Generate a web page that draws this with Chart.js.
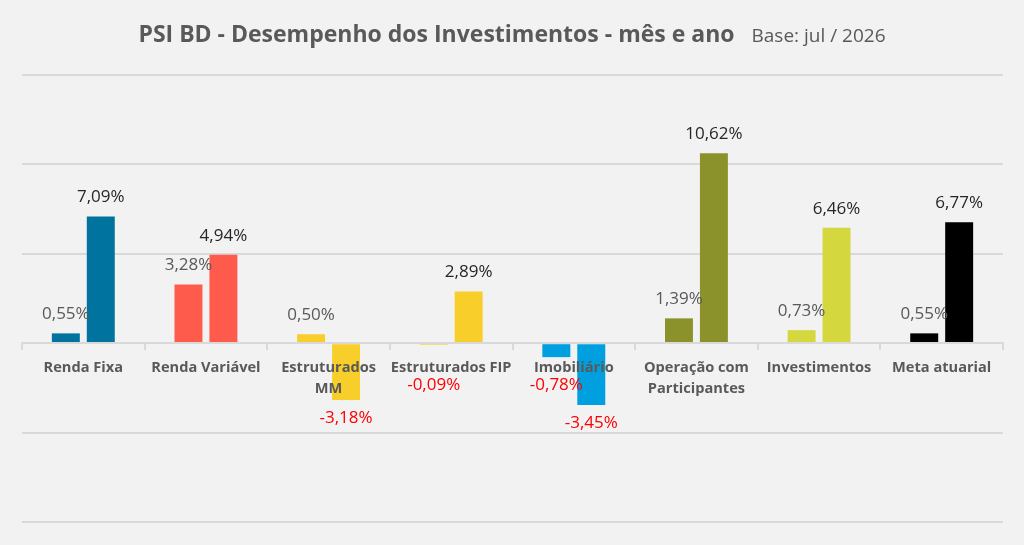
<!DOCTYPE html>
<html>
<head>
<meta charset="utf-8">
<script src="https://cdn.jsdelivr.net/npm/chart.js@4/dist/chart.umd.min.js"></script>
<style>
  html, body { margin: 0; padding: 0; background: #F2F2F2; }
  #wrap { width: 1024px; height: 545px; position: relative; }
</style>
</head>
<body>
<div id="wrap"><canvas id="c" width="1024" height="545"></canvas></div>
<script>
const titleText = 'PSI BD - Desempenho dos Investimentos - mês e ano';
const subtitleText = 'Base: jul / 2026';
const categories = [
  ['Renda Fixa'],
  ['Renda Variável'],
  ['Estruturados', 'MM'],
  ['Estruturados FIP'],
  ['Imobiliário'],
  ['Operação com', 'Participantes'],
  ['Investimentos'],
  ['Meta atuarial']
];
const seriesNames = ['Mês', 'Ano'];
const monthValues = [0.55, 3.28, 0.50, -0.09, -0.78, 1.39, 0.73, 0.55];
const yearValues = [7.09, 4.94, -3.18, 2.89, -3.45, 10.62, 6.46, 6.77];
const categoryColors = ['#00739E', '#FF5B4C', '#F8CF2A', '#F8CF2A', '#009FDF', '#8C922B', '#D4D73E', '#000000'];
const yTicks = [-10, -5, 0, 5, 10, 15];

const FONT = '"Open Sans", "DejaVu Sans", sans-serif';

function fmt(v) {
  return v.toFixed(2).replace('.', ',') + '%';
}

const titlePlugin = {
  id: 'titlePlugin',
  afterDraw(chart) {
    const ctx = chart.ctx;
    ctx.save();
    ctx.fillStyle = '#595959';
    ctx.textBaseline = 'alphabetic';
    ctx.font = 'bold 23px ' + FONT;
    const w1 = ctx.measureText(titleText).width;
    ctx.font = '19px ' + FONT;
    const w2 = ctx.measureText(subtitleText).width;
    const gap = 17;
    const total = w1 + gap + w2;
    const x0 = chart.width / 2 - total / 2;
    ctx.font = 'bold 23px ' + FONT;
    ctx.textAlign = 'left';
    ctx.fillText(titleText, x0, 41.5);
    ctx.font = '19px ' + FONT;
    ctx.fillText(subtitleText, x0 + w1 + gap, 41.5);
    ctx.restore();
  }
};

const valueLabels = {
  id: 'valueLabels',
  afterDraw(chart) {
    const ctx = chart.ctx;
    const yScale = chart.scales.y;
    const zeroY = yScale.getPixelForValue(0);
    ctx.save();
    ctx.font = '17px ' + FONT;
    ctx.textAlign = 'center';
    ctx.textBaseline = 'middle';
    chart.data.datasets.forEach((ds, di) => {
      const meta = chart.getDatasetMeta(di);
      meta.data.forEach((bar, i) => {
        const v = ds.data[i];
        let y;
        if (v >= 0) {
          ctx.fillStyle = di === 0 ? '#595959' : '#262626';
          y = bar.y - 19;
        } else {
          ctx.fillStyle = '#FF0000';
          y = Math.max(bar.y + 18, zeroY + 42);
        }
        ctx.fillText(fmt(v), bar.x, y);
      });
    });
    ctx.restore();
  }
};

new Chart(document.getElementById('c'), {
  type: 'bar',
  data: {
    labels: categories,
    datasets: [
      { label: seriesNames[0], data: monthValues, backgroundColor: categoryColors },
      { label: seriesNames[1], data: yearValues, backgroundColor: categoryColors }
    ]
  },
  options: {
    responsive: false,
    animation: false,
    devicePixelRatio: 1,
    categoryPercentage: 0.57,
    barPercentage: 0.8,
    layout: { padding: { left: 22, right: 21, top: 75, bottom: 23 } },
    plugins: {
      legend: { display: false },
      title: { display: false },
      tooltip: { enabled: false }
    },
    scales: {
      x: {
        position: { y: 0 },
        offset: true,
        grid: {
          display: true,
          offset: true,
          drawOnChartArea: false,
          drawTicks: true,
          tickLength: 6,
          color: '#D9D9D9',
          lineWidth: 2
        },
        border: { display: true, color: '#D9D9D9', width: 2, z: 1 },
        ticks: {
          z: 1,
          color: '#595959',
          font: { family: FONT, size: 14.6, weight: 'bold', lineHeight: 1.45 },
          padding: 8,
          maxRotation: 0,
          autoSkip: false
        }
      },
      y: {
        min: -10,
        max: 15,
        afterBuildTicks(scale) {
          scale.ticks = yTicks.map(v => ({ value: v }));
        },
        grid: { color: '#D9D9D9', lineWidth: 2, drawTicks: false },
        border: { display: false },
        ticks: { display: false }
      }
    }
  },
  plugins: [titlePlugin, valueLabels]
});
</script>
</body>
</html>
